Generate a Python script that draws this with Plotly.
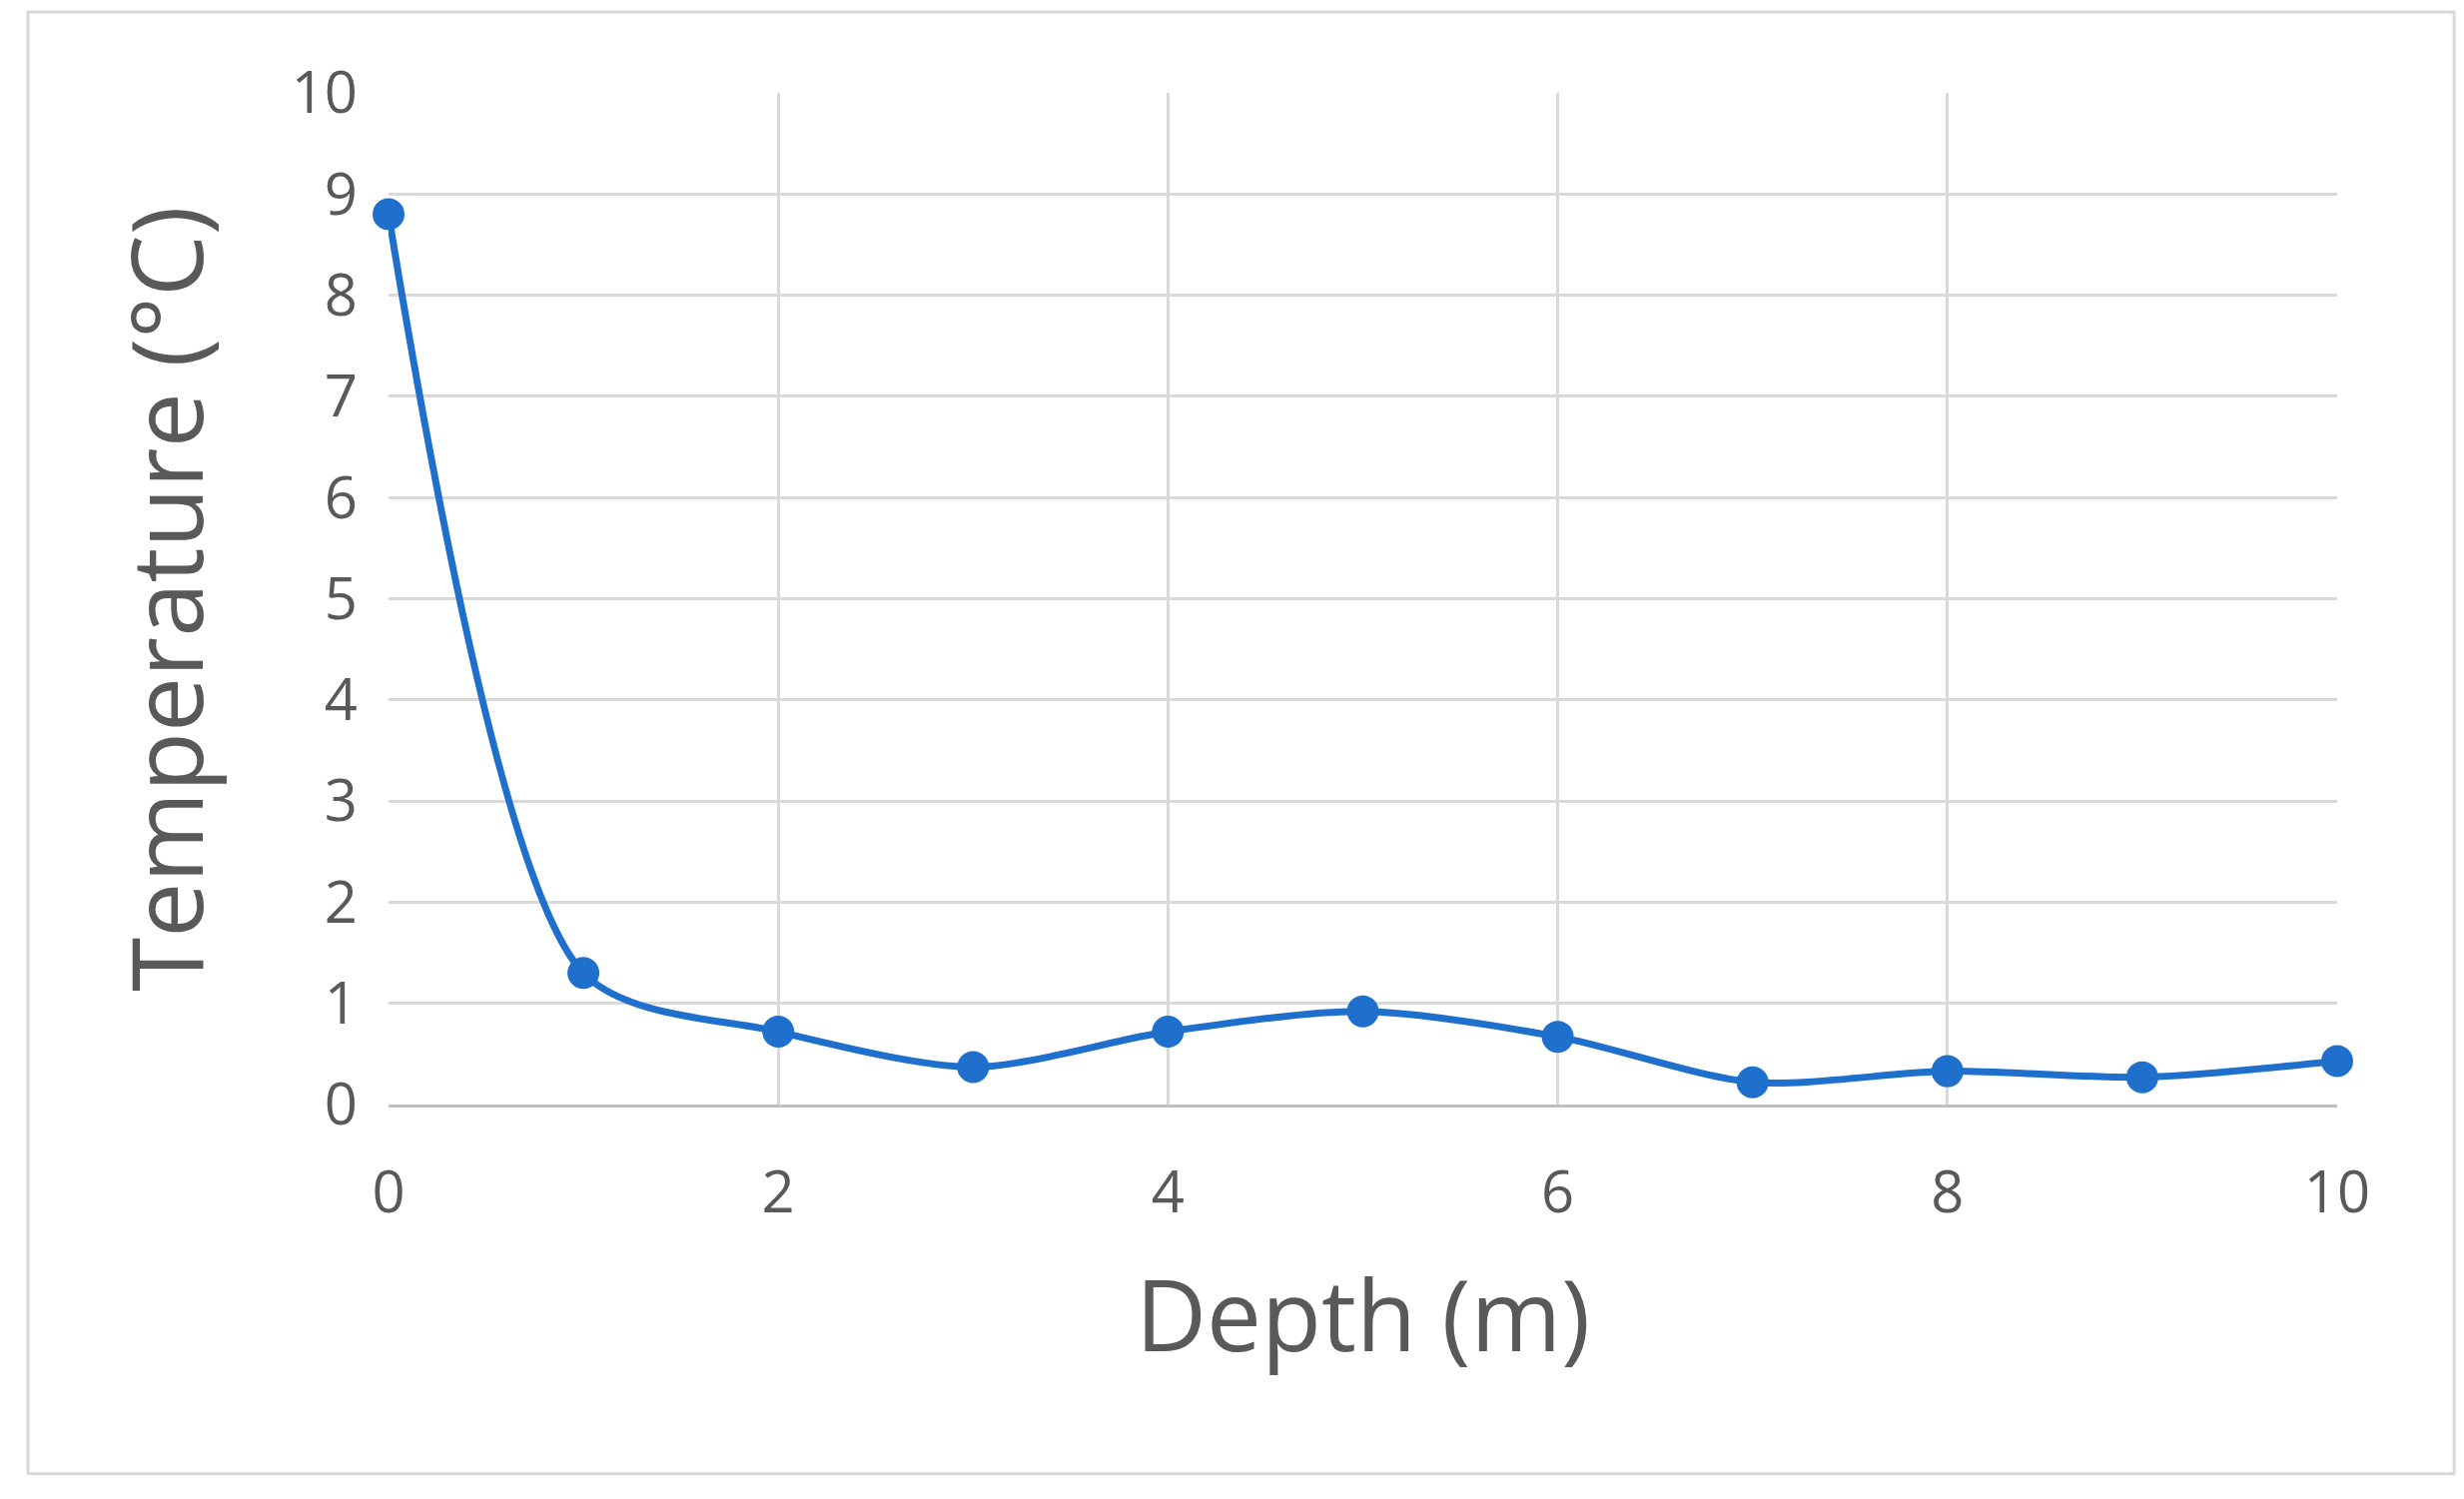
import plotly.graph_objects as go

depth = [0, 1, 2, 3, 4, 5, 6, 7, 8, 9, 10]
temperature = [8.8, 1.3, 0.72, 0.37, 0.72, 0.92, 0.67, 0.22, 0.33, 0.27, 0.43]
x_ticks = [0, 2, 4, 6, 8, 10]
y_ticks = list(range(0, 11))

fig = go.Figure(go.Scatter(
    x=depth, y=temperature, mode="lines+markers", cliponaxis=False,
    line=dict(color="#1f6fcc", width=7, shape="spline", smoothing=0.8),
    marker=dict(color="#1f6fcc", size=32),
))
gray = "#595959"
fig.update_layout(
    width=2467, height=1501,
    margin=dict(l=381, r=135, t=85, b=403),
    paper_bgcolor="white", plot_bgcolor="white",
    font=dict(family="Open Sans", color=gray),
    showlegend=False,
    shapes=[dict(type="rect", xref="paper", yref="paper",
                 x0=-0.185, x1=1.06, y0=-0.365, y1=1.08,
                 line=dict(color="#d9d9d9", width=3))],
)
fig.update_xaxes(range=[0, 10], tickvals=x_ticks, showgrid=True, gridcolor="#d9d9d9",
                 gridwidth=3, zeroline=False, showline=True, linecolor="#bfbfbf", linewidth=3,
                 tickfont=dict(size=58, color=gray), ticklabelstandoff=35,
                 title=dict(text="Depth (m)", font=dict(size=98, color=gray), standoff=55))
fig.update_yaxes(range=[0, 10], tickvals=y_ticks, showgrid=True, gridcolor="#d9d9d9",
                 gridwidth=3, zeroline=False, showline=False,
                 tickfont=dict(size=58, color=gray), ticklabelstandoff=30,
                 title=dict(text="Temperature (°C)", font=dict(size=98, color=gray), standoff=55))
fig.write_html("out.html")
